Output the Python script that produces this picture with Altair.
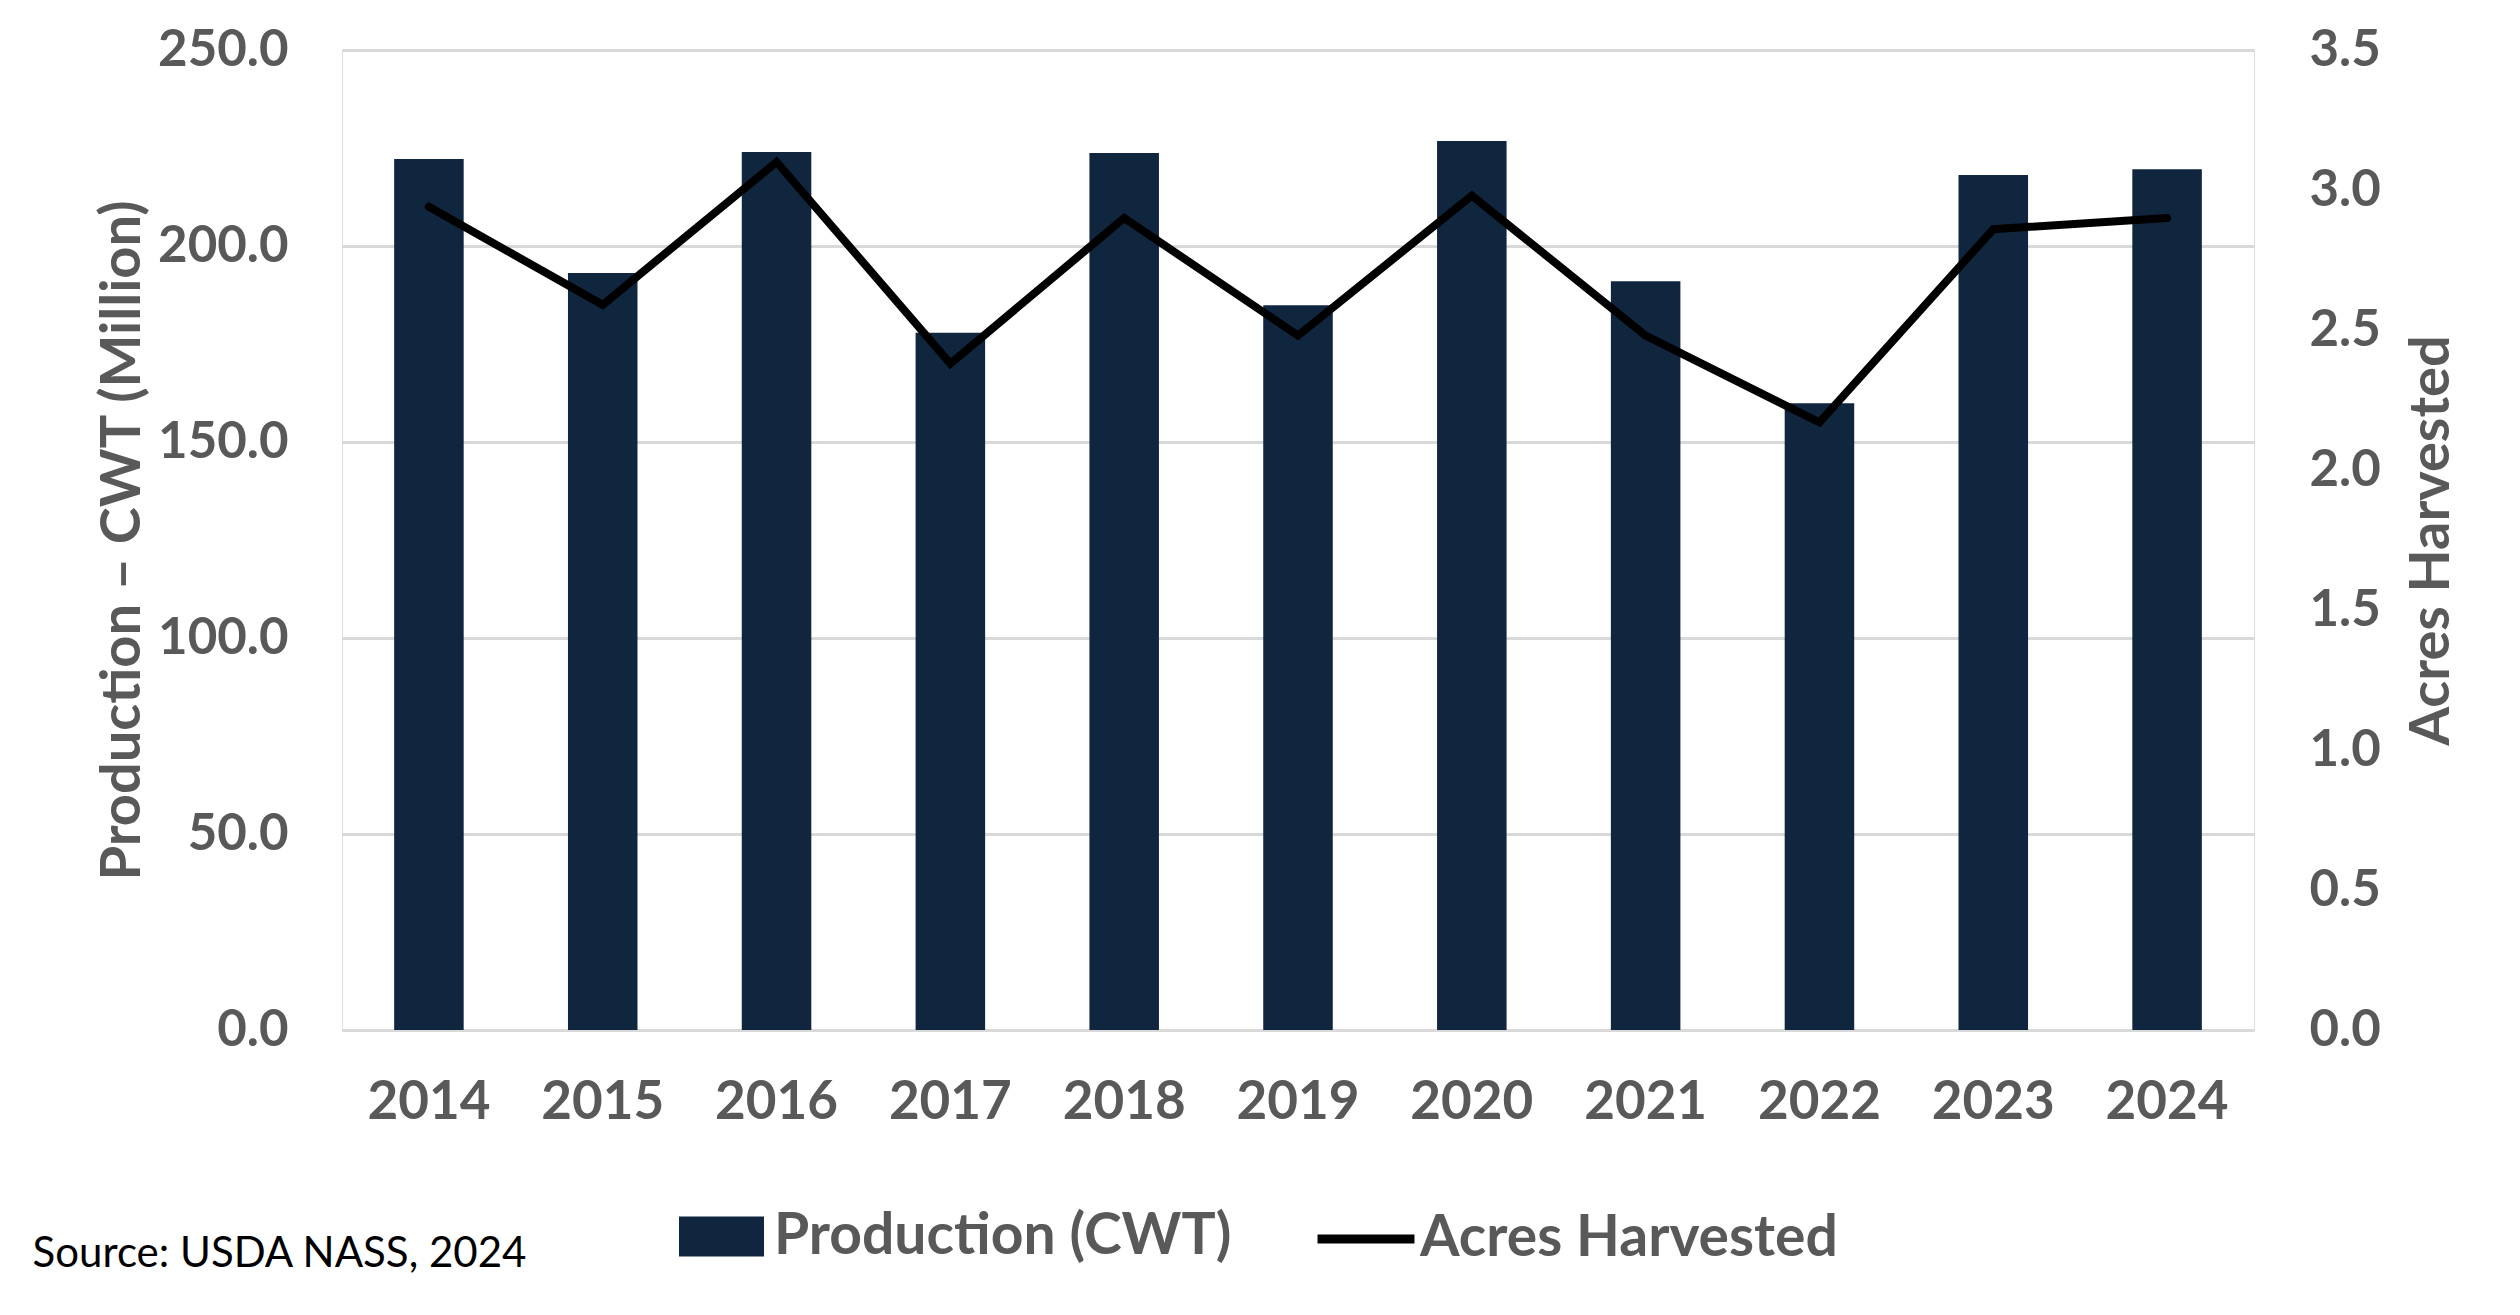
import altair as alt
import pandas as pd

years = ["2014", "2015", "2016", "2017", "2018", "2019", "2020", "2021", "2022", "2023", "2024"]
production = [222.2, 193.1, 224.0, 177.9, 223.7, 184.9, 226.8, 191.0, 159.9, 218.1, 219.6]
acres = [2.94, 2.59, 3.10, 2.38, 2.90, 2.48, 2.98, 2.48, 2.17, 2.86, 2.90]
left_ticks = [0, 50, 100, 150, 200, 250]
right_ticks = [0, 0.5, 1.0, 1.5, 2.0, 2.5, 3.0, 3.5]

df = pd.DataFrame({
    "Year": years,
    "Production": production,
    "Acres": acres,
    "s1": ["Production (CWT)"] * len(years),
    "s2": ["Acres Harvested"] * len(years),
})

NAVY = "#10263f"
GRAY = "#595959"
GRID = "#d9d9d9"
FONT = "Lato"

x = alt.X(
    "Year:N", sort=years,
    scale=alt.Scale(paddingInner=0.6, paddingOuter=0.3),
    axis=alt.Axis(title=None, labelAngle=0, labelFontSize=53, labelFont=FONT,
                  labelFontWeight="bold", labelColor=GRAY, ticks=False,
                  domain=False, labelPadding=46),
)

bars = alt.Chart(df).mark_bar().encode(
    x=x,
    y=alt.Y("Production:Q", scale=alt.Scale(domain=[0, 250]),
            axis=alt.Axis(values=left_ticks, format=".1f",
                          title="Production – CWT (Million)",
                          titleFont=FONT, titleFontSize=56, titleFontWeight="bold",
                          titleColor=GRAY, titlePadding=6,
                          labelFont=FONT, labelFontSize=51, labelFontWeight="bold",
                          labelColor=GRAY, labelPadding=54, ticks=False, domain=False,
                          grid=True, gridColor=GRID, gridWidth=3)),
    color=alt.Color("s1:N", scale=alt.Scale(domain=["Production (CWT)"], range=[NAVY]),
                    legend=alt.Legend(title=None, orient="none", legendX=337, legendY=1144,
                                      direction="horizontal",
                                      symbolType="M-1,-0.47L1,-0.47L1,0.47L-1,0.47Z",
                                      symbolSize=7225, symbolStrokeWidth=0,
                                      labelFont=FONT, labelFontSize=57, labelFontWeight="bold",
                                      labelColor=GRAY, labelOffset=10, labelLimit=1000,
                                      padding=0)),
)

line = alt.Chart(df).mark_line(strokeWidth=8, strokeCap="round", strokeJoin="miter").encode(
    x=x,
    y=alt.Y("Acres:Q", scale=alt.Scale(domain=[0, 3.5]),
            axis=alt.Axis(orient="right", values=right_ticks, format=".1f",
                          title="Acres Harvested", titleAngle=270, titleBaseline="top",
                          titleFont=FONT, titleFontSize=56, titleFontWeight="bold",
                          titleColor=GRAY, titlePadding=24,
                          labelFont=FONT, labelFontSize=51, labelFontWeight="bold",
                          labelColor=GRAY, labelPadding=55, ticks=False, domain=False,
                          grid=False)),
    stroke=alt.Stroke("s2:N", scale=alt.Scale(domain=["Acres Harvested"], range=["black"]),
                      legend=alt.Legend(title=None, orient="none", legendX=971, legendY=1136,
                                        direction="horizontal",
                                        symbolType="stroke", symbolSize=9400,
                                        symbolStrokeWidth=9,
                                        labelFont=FONT, labelFontSize=57, labelFontWeight="bold",
                                        labelColor=GRAY, labelOffset=1, labelLimit=1000,
                                        padding=0)),
)

chart = alt.layer(bars, line).resolve_scale(
    y="independent", color="independent", stroke="independent"
).properties(
    width=1912, height=980,
    padding={"left": 24, "top": 16, "right": 40, "bottom": 20},
    title=alt.TitleParams("Source: USDA NASS, 2024", orient="bottom", anchor="start",
                          frame="bounds", font=FONT, fontSize=42, fontWeight="normal",
                          color="black", offset=-33, dx=-62),
).configure_view(strokeWidth=0).configure(background="white")

chart.save("out.html", embed_options={"renderer": "svg", "actions": False})
